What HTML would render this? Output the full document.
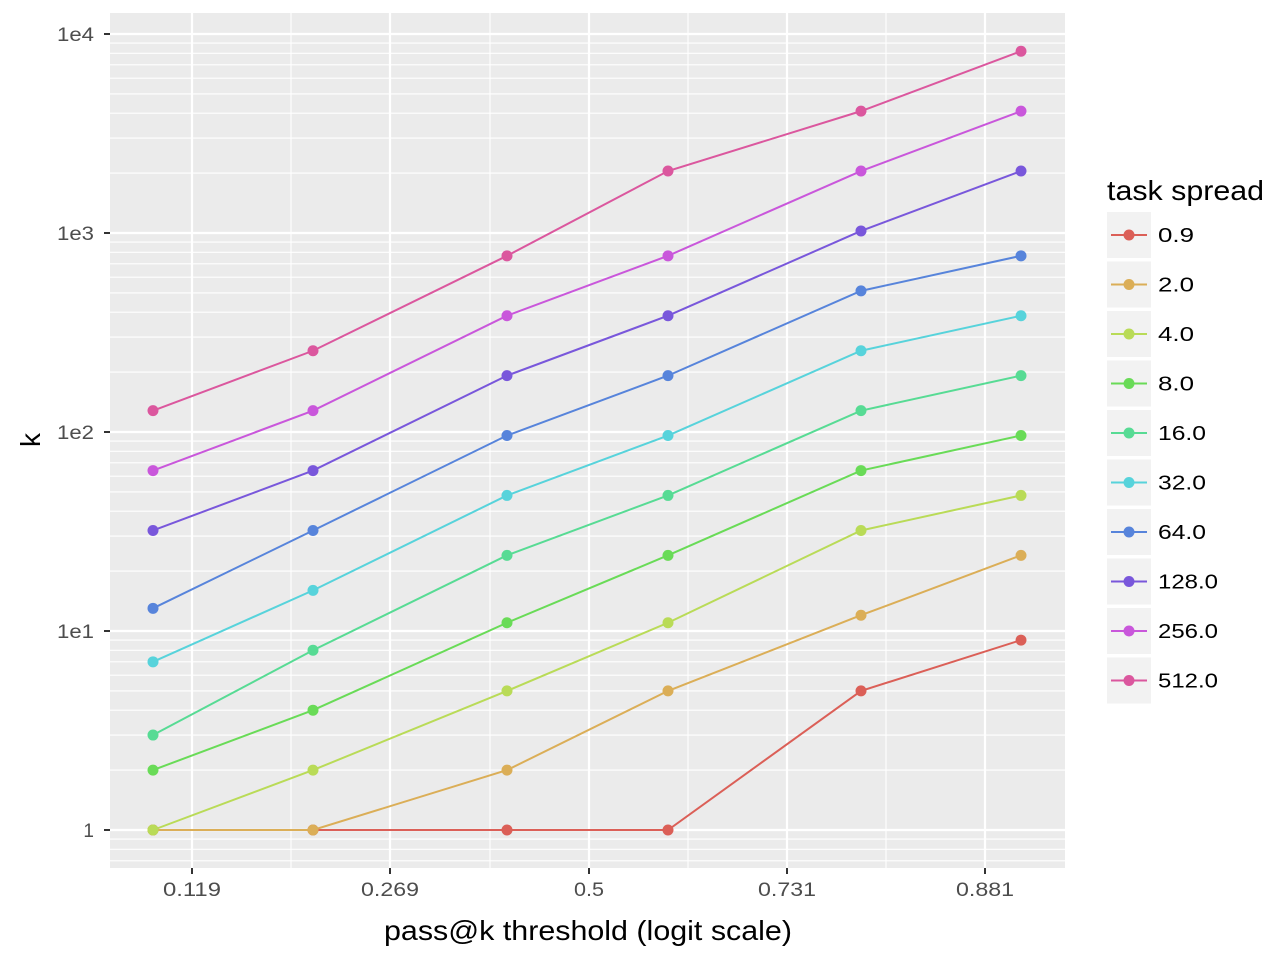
<!DOCTYPE html>
<html><head><style>body{margin:0;background:#fff}svg{display:block}</style></head><body>
<svg width="1280" height="960" xmlns="http://www.w3.org/2000/svg" font-family="Liberation Sans, sans-serif">
<rect x="110" y="13" width="955" height="855" fill="#ebebeb"/>
<g id="grid"></g>
<g id="series"></g>
<g font-size="19" fill="#4d4d4d" text-anchor="end">
<text x="94" y="41" textLength="37" lengthAdjust="spacingAndGlyphs">1e4</text><text x="94" y="240" textLength="37" lengthAdjust="spacingAndGlyphs">1e3</text><text x="94" y="439" textLength="37" lengthAdjust="spacingAndGlyphs">1e2</text><text x="94" y="638" textLength="37" lengthAdjust="spacingAndGlyphs">1e1</text><text x="94" y="837">1</text>
</g>
<g stroke="#333" stroke-width="2">
<line x1="104" x2="110" y1="34" y2="34"/><line x1="104" x2="110" y1="233" y2="233"/><line x1="104" x2="110" y1="432" y2="432"/><line x1="104" x2="110" y1="631" y2="631"/><line x1="104" x2="110" y1="830" y2="830"/>
<line x1="192" x2="192" y1="868" y2="874"/><line x1="390" x2="390" y1="868" y2="874"/><line x1="589" x2="589" y1="868" y2="874"/><line x1="787" x2="787" y1="868" y2="874"/><line x1="985" x2="985" y1="868" y2="874"/>
</g>
<g font-size="19" fill="#4d4d4d" text-anchor="middle">
<text x="192" y="896" textLength="58" lengthAdjust="spacingAndGlyphs">0.119</text><text x="390" y="896" textLength="58" lengthAdjust="spacingAndGlyphs">0.269</text><text x="589" y="896" textLength="30" lengthAdjust="spacingAndGlyphs">0.5</text><text x="787" y="896" textLength="58" lengthAdjust="spacingAndGlyphs">0.731</text><text x="985" y="896" textLength="58" lengthAdjust="spacingAndGlyphs">0.881</text>
</g>
<text x="588" y="940" font-size="28" text-anchor="middle" textLength="408" lengthAdjust="spacingAndGlyphs">pass@k threshold (logit scale)</text>
<text transform="translate(40,440) rotate(-90)" font-size="28" text-anchor="middle">k</text>
<text x="1107" y="200" font-size="28" textLength="157" lengthAdjust="spacingAndGlyphs">task spread</text>
<g id="legend"></g>
<script>
const ns="http://www.w3.org/2000/svg";
function el(p,t,a){const e=document.createElementNS(ns,t);for(const k in a)e.setAttribute(k,a[k]);p.appendChild(e);return e;}
const g=document.getElementById('grid');
const Y=k=>830-199*Math.log10(k);
for(let d=-1;d<=3;d++){for(let m=2;m<=9;m++){const y=Y(m*Math.pow(10,d));if(y>13&&y<868)el(g,'line',{x1:110,x2:1065,y1:y,y2:y,stroke:'#fff','stroke-width':1.1});}}
[291,490,688,886].forEach(x=>el(g,'line',{x1:x,x2:x,y1:13,y2:868,stroke:'#fff','stroke-width':1.1}));
[34,233,432,631,830].forEach(y=>el(g,'line',{x1:110,x2:1065,y1:y,y2:y,stroke:'#fff','stroke-width':2.2}));
[192,390,589,787,985].forEach(x=>el(g,'line',{x1:x,x2:x,y1:13,y2:868,stroke:'#fff','stroke-width':2.2}));
const X=[153,313,507,668,861,1021];
const data=[
['0.9','#db5f57',[1,1,1,1,5,9]],
['2.0','#dbae57',[1,1,2,5,12,24]],
['4.0','#b9db57',[1,2,5,11,32,48]],
['8.0','#69db57',[2,4,11,24,64,96]],
['16.0','#57db94',[3,8,24,48,128,192]],
['32.0','#57d3db',[7,16,48,96,256,384]],
['64.0','#5784db',[13,32,96,192,512,768]],
['128.0','#7957db',[32,64,192,384,1024,2048]],
['256.0','#c957db',[64,128,384,768,2048,4096]],
['512.0','#db579e',[128,256,768,2048,4096,8192]]];
const s=document.getElementById('series'),L=document.getElementById('legend');
data.forEach(([n,c,v])=>{el(s,'polyline',{points:v.map((k,i)=>X[i]+','+Y(k)).join(' '),fill:'none',stroke:c,'stroke-width':2});});
data.forEach(([n,c,v])=>{v.forEach((k,i)=>el(s,'circle',{cx:X[i],cy:Y(k),r:5.5,fill:c}));});
data.forEach(([n,c],i)=>{const cy=235+i*49.5;
el(L,'rect',{x:1107,y:cy-23,width:44,height:46,fill:'#f2f2f2'});
el(L,'line',{x1:1111,x2:1147,y1:cy,y2:cy,stroke:c,'stroke-width':2});
el(L,'circle',{cx:1129,cy:cy,r:5.5,fill:c});
const t=el(L,'text',{x:1158,y:cy+7,'font-size':20,fill:'#000',textLength:n.length*12,lengthAdjust:'spacingAndGlyphs'});t.textContent=n;});
</script>
</svg>
</body></html>
